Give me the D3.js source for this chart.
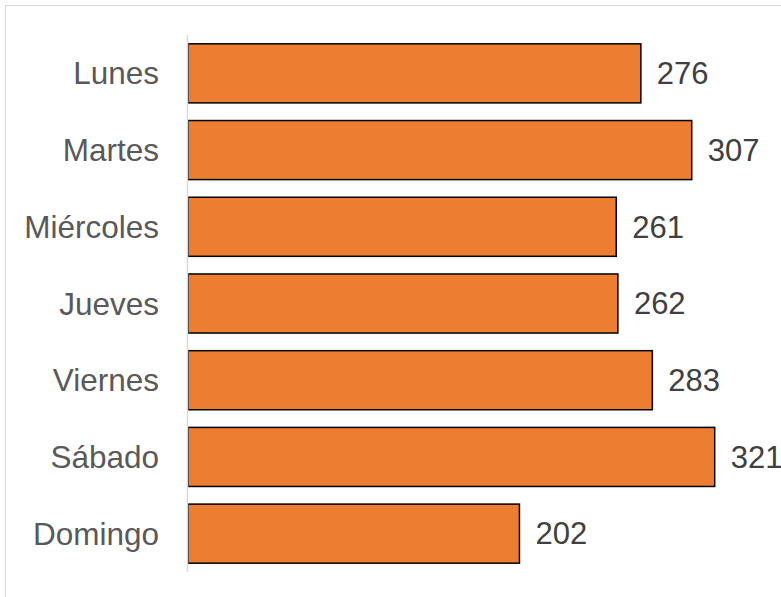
<!DOCTYPE html>
<html><head><meta charset="utf-8">
<script src="https://cdn.jsdelivr.net/npm/d3@7"></script>
<style>body{margin:0;background:#fff}svg{display:block}</style>
</head><body>
<script>
const categories = ["Lunes","Martes","Miércoles","Jueves","Viernes","Sábado","Domingo"];
const values = [276,307,261,262,283,321,202];

const W = 781, H = 597;
const svg = d3.select("body").append("svg").attr("width", W).attr("height", H);
svg.append("rect").attr("x",5.5).attr("y",5.5).attr("width",W).attr("height",H)
  .attr("fill","#fff").attr("stroke","#d9d9d9").attr("stroke-width",1);

const x0 = 188;
const x = d3.scaleLinear().domain([0,321]).range([x0, 714.7]);
const y = d3.scaleBand().domain(categories).range([35, 572]).paddingInner(0.23).paddingOuter(0.115);

svg.append("g").selectAll("rect").data(values).join("rect")
  .attr("x", x(0)).attr("y", (d,i)=>y(categories[i]))
  .attr("width", d=>x(d)-x(0)).attr("height", y.bandwidth())
  .attr("fill","#ED7D31").attr("stroke","#000").attr("stroke-width",1.5);

svg.append("line").attr("x1",x0-0.5).attr("x2",x0-0.5).attr("y1",35).attr("y2",572)
  .attr("stroke","#d9d9d9").attr("stroke-width",1.5);

svg.append("g").selectAll("text").data(categories).join("text")
  .attr("x", 159).attr("y", d=>y(d)+y.bandwidth()/2).attr("dy","0.35em")
  .attr("text-anchor","end").attr("font-family","'Liberation Sans', Arial, sans-serif")
  .attr("font-size",31.5).attr("fill","#595959").text(d=>d);

svg.append("g").selectAll("text").data(values).join("text")
  .attr("x", d=>x(d)+16).attr("y", (d,i)=>y(categories[i])+y.bandwidth()/2).attr("dy","0.35em")
  .attr("font-family","'Liberation Sans', Arial, sans-serif")
  .attr("font-size",31).attr("fill","#404040").text(d=>d);
</script>
</body></html>
